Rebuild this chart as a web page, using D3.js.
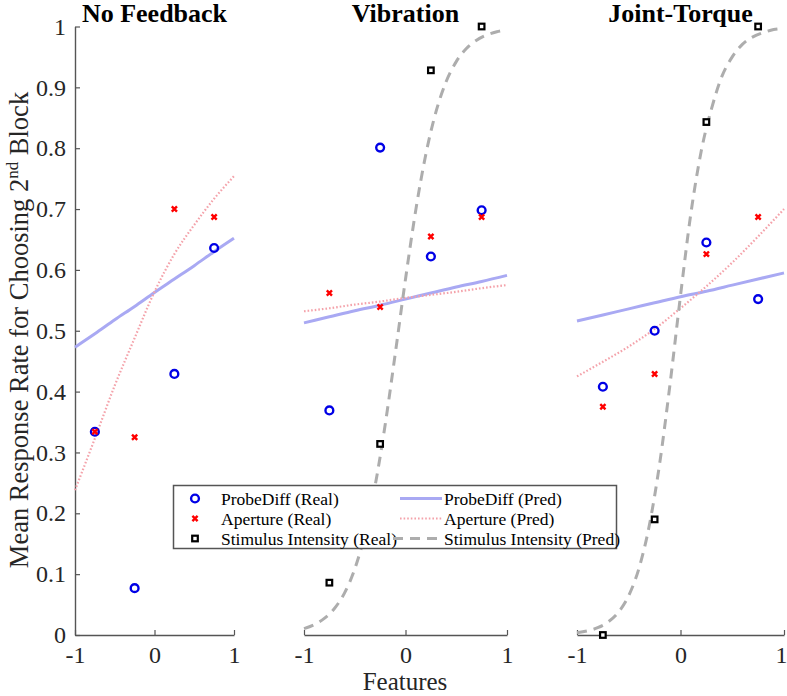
<!DOCTYPE html>
<html><head><meta charset="utf-8">
<script src="https://cdn.jsdelivr.net/npm/d3@7"></script>
<style>html,body{margin:0;padding:0;background:#fff;}svg{display:block;}
svg text{font-family:'Liberation Serif','Times New Roman',serif !important;}</style>
</head><body>
<svg id="chart" width="787" height="696"></svg>
<script>
// ---------- data ----------
const panels = ["No Feedback", "Vibration", "Joint-Torque"];
const features = [-0.75, -0.25, 0.25, 0.75];
const probeReal = [[0.334, 0.077, 0.429, 0.636], [0.369, 0.801, 0.622, 0.698], [0.408, 0.500, 0.645, 0.552]];
const apertureReal = [[0.334, 0.325, 0.700, 0.687], [0.562, 0.539, 0.655, 0.687], [0.375, 0.429, 0.626, 0.687]];
const stimulusReal = [null, [0.086, 0.314, 0.928, 1.0], [0.0, 0.190, 0.843, 1.0]];
const predX = [-1, -0.75, -0.5, -0.25, 0, 0.25, 0.5, 0.75, 1];
const probePred = [[0.473, 0.495, 0.518, 0.540, 0.563, 0.585, 0.607, 0.630, 0.652],
                   [0.513, 0.523, 0.533, 0.542, 0.552, 0.562, 0.572, 0.581, 0.591],
                   [0.516, 0.526, 0.536, 0.546, 0.556, 0.565, 0.575, 0.585, 0.595]];
const aperturePred = [[0.238, 0.323, 0.410, 0.488, 0.564, 0.626, 0.674, 0.717, 0.754],
                      [0.532, 0.537, 0.543, 0.548, 0.554, 0.559, 0.564, 0.570, 0.575],
                      [0.425, 0.449, 0.474, 0.503, 0.537, 0.573, 0.612, 0.655, 0.700]];
const stimPredX = [-1, -0.9, -0.8, -0.7, -0.6, -0.5, -0.4, -0.3, -0.2, -0.1, 0, 0.1, 0.2, 0.3, 0.4, 0.5, 0.6, 0.7, 0.8, 0.9, 1];
const stimulusPred = [null,
  [0.0104, 0.0168, 0.0272, 0.0436, 0.0693, 0.1084, 0.1656, 0.2447, 0.3459, 0.4634, 0.5849, 0.6970, 0.7897, 0.8597, 0.9091, 0.9423, 0.9639, 0.9775, 0.9861, 0.9914, 0.9947],
  [0.0038, 0.0068, 0.0120, 0.0213, 0.0374, 0.0649, 0.1103, 0.1812, 0.2833, 0.4139, 0.5577, 0.6925, 0.7950, 0.8650, 0.9180, 0.9500, 0.9710, 0.9830, 0.9900, 0.9950, 0.9970]];
const xTicks = [-1, 0, 1];
const yTicks = [0, 0.1, 0.2, 0.3, 0.4, 0.5, 0.6, 0.7, 0.8, 0.9, 1];
const legendItems = ["ProbeDiff (Real)", "Aperture (Real)", "Stimulus Intensity (Real)",
                     "ProbeDiff (Pred)", "Aperture (Pred)", "Stimulus Intensity (Pred)"];

// ---------- layout / style ----------
const svg = d3.select("#chart");
const serif = "'Liberation Serif','Times New Roman',serif";
const panelRanges = [[75, 234], [304, 507], [577, 784]];
const y = d3.scaleLinear().domain([0, 1]).range([635, 26.5]);
const axisColor = "#555";
const col = {
  probe: "#0000e6", aperture: "#ff0000", stim: "#000",
  probePred: "#a9a9f3", aperturePred: "#f4a2aa", stimPred: "#adadad"
};

function xMark(sel, size) {
  const s = size;
  return sel.append("path").attr("d", `M${-s},${-s}L${s},${s}M${-s},${s}L${s},${-s}`)
    .attr("stroke", col.aperture).attr("stroke-width", 2.4).attr("fill", "none");
}

panels.forEach((name, i) => {
  const x = d3.scaleLinear().domain([-1, 1]).range(panelRanges[i]);
  const g = svg.append("g");

  // x axis
  const xa = g.append("g").attr("transform", `translate(0,${y(0)})`)
    .call(d3.axisBottom(x).tickValues(xTicks).tickSize(-5).tickSizeOuter(0).tickPadding(11)
      .tickFormat(d => String(d)));
  xa.attr("font-family", serif).attr("font-size", 24);
  xa.select(".domain").attr("stroke", axisColor).attr("stroke-width", 1.4);
  xa.selectAll(".tick line").attr("stroke", axisColor).attr("stroke-width", 1.2);
  xa.selectAll("text").attr("font-family", serif).attr("font-size", 24).attr("fill", "#262626");
  if (i === panels.length - 1) {
    xa.selectAll(".tick text").filter(d => d === 1).attr("dx", -3);
  }

  if (i === 0) {
    const ya = g.append("g").attr("transform", `translate(${x(-1)},0)`)
      .call(d3.axisLeft(y).tickValues(yTicks).tickSize(-5).tickSizeOuter(0).tickPadding(9)
        .tickFormat(d => String(+d.toFixed(1))));
    ya.attr("font-family", serif).attr("font-size", 24);
    ya.select(".domain").attr("stroke", axisColor).attr("stroke-width", 1.4);
    ya.selectAll(".tick line").attr("stroke", axisColor).attr("stroke-width", 1.2);
    ya.selectAll("text").attr("font-family", serif).attr("font-size", 24).attr("fill", "#262626");
  }

  // title
  g.append("text").attr("x", x(0)).attr("y", 22).attr("text-anchor", "middle")
    .attr("font-family", serif).attr("font-weight", "bold").attr("font-size", 26).attr("fill", "#000")
    .text(name);

  const line = d3.line().x(d => x(d[0])).y(d => y(d[1])).curve(d3.curveMonotoneX);

  // predicted curves
  g.append("path").datum(predX.map((v, k) => [v, probePred[i][k]]))
    .attr("d", line).attr("fill", "none").attr("stroke", col.probePred).attr("stroke-width", 3);
  g.append("path").datum(predX.map((v, k) => [v, aperturePred[i][k]]))
    .attr("d", line).attr("fill", "none").attr("stroke", col.aperturePred).attr("stroke-width", 2.2)
    .attr("stroke-dasharray", "1.6,2");
  if (stimulusPred[i]) {
    g.append("path").datum(stimPredX.map((v, k) => [v, stimulusPred[i][k]]))
      .attr("d", line).attr("fill", "none").attr("stroke", col.stimPred).attr("stroke-width", 3)
      .attr("stroke-dasharray", "10,7");
  }

  // real markers
  if (stimulusReal[i]) {
    g.selectAll(null).data(stimulusReal[i]).enter().append("rect")
      .attr("x", (d, k) => x(features[k]) - 2.8).attr("y", d => y(d) - 2.8)
      .attr("width", 5.6).attr("height", 5.6)
      .attr("fill", "#fff").attr("stroke", col.stim).attr("stroke-width", 2.2);
  }
  g.selectAll(null).data(probeReal[i]).enter().append("circle")
    .attr("cx", (d, k) => x(features[k])).attr("cy", d => y(d)).attr("r", 3.9)
    .attr("fill", "none").attr("stroke", col.probe).attr("stroke-width", 2.4);
  apertureReal[i].forEach((d, k) => {
    xMark(g.append("g").attr("transform", `translate(${x(features[k])},${y(d)})`), 2.6);
  });
});

// y label
const yl = svg.append("text").attr("transform", "translate(28,330) rotate(-90)")
  .attr("text-anchor", "middle").attr("font-family", serif).attr("font-size", 26.5).attr("fill", "#262626");
yl.append("tspan").text("Mean Response Rate for Choosing 2");
yl.append("tspan").attr("font-size", 17).attr("dy", -10).text("nd");
yl.append("tspan").attr("dy", 10).text(" Block");

// x label
svg.append("text").attr("x", 405).attr("y", 690).attr("text-anchor", "middle")
  .attr("font-family", serif).attr("font-size", 25).attr("fill", "#262626").text("Features");

// legend
const lg = svg.append("g");
lg.append("rect").attr("x", 173.5).attr("y", 485.5).attr("width", 443).attr("height", 63)
  .attr("fill", "#fff").attr("stroke", axisColor).attr("stroke-width", 1.5);
const rowsY = [498.5, 518.5, 538.5];
const lt = (xx, yy, t) => lg.append("text").attr("x", xx).attr("y", yy + 6)
  .attr("font-family", serif).attr("font-size", 17.5).attr("fill", "#000").text(t);
lg.append("circle").attr("cx", 195).attr("cy", rowsY[0]).attr("r", 3.9)
  .attr("fill", "none").attr("stroke", col.probe).attr("stroke-width", 2.4);
xMark(lg.append("g").attr("transform", `translate(195,${rowsY[1]})`), 2.6);
lg.append("rect").attr("x", 195 - 2.8).attr("y", rowsY[2] - 2.8).attr("width", 5.6).attr("height", 5.6)
  .attr("fill", "#fff").attr("stroke", col.stim).attr("stroke-width", 2.2);
lt(221, rowsY[0], legendItems[0]);
lt(221, rowsY[1], legendItems[1]);
lt(221, rowsY[2], legendItems[2]);
lg.append("line").attr("x1", 400).attr("x2", 442).attr("y1", rowsY[0]).attr("y2", rowsY[0])
  .attr("stroke", col.probePred).attr("stroke-width", 3);
lg.append("line").attr("x1", 400).attr("x2", 442).attr("y1", rowsY[1]).attr("y2", rowsY[1])
  .attr("stroke", col.aperturePred).attr("stroke-width", 2.2).attr("stroke-dasharray", "1.6,2");
lg.append("line").attr("x1", 393).attr("x2", 442).attr("y1", rowsY[2]).attr("y2", rowsY[2])
  .attr("stroke", col.stimPred).attr("stroke-width", 3).attr("stroke-dasharray", "10,7");
lt(444, rowsY[0], legendItems[3]);
lt(444, rowsY[1], legendItems[4]);
lt(444, rowsY[2], legendItems[5]);
</script>
</body></html>
